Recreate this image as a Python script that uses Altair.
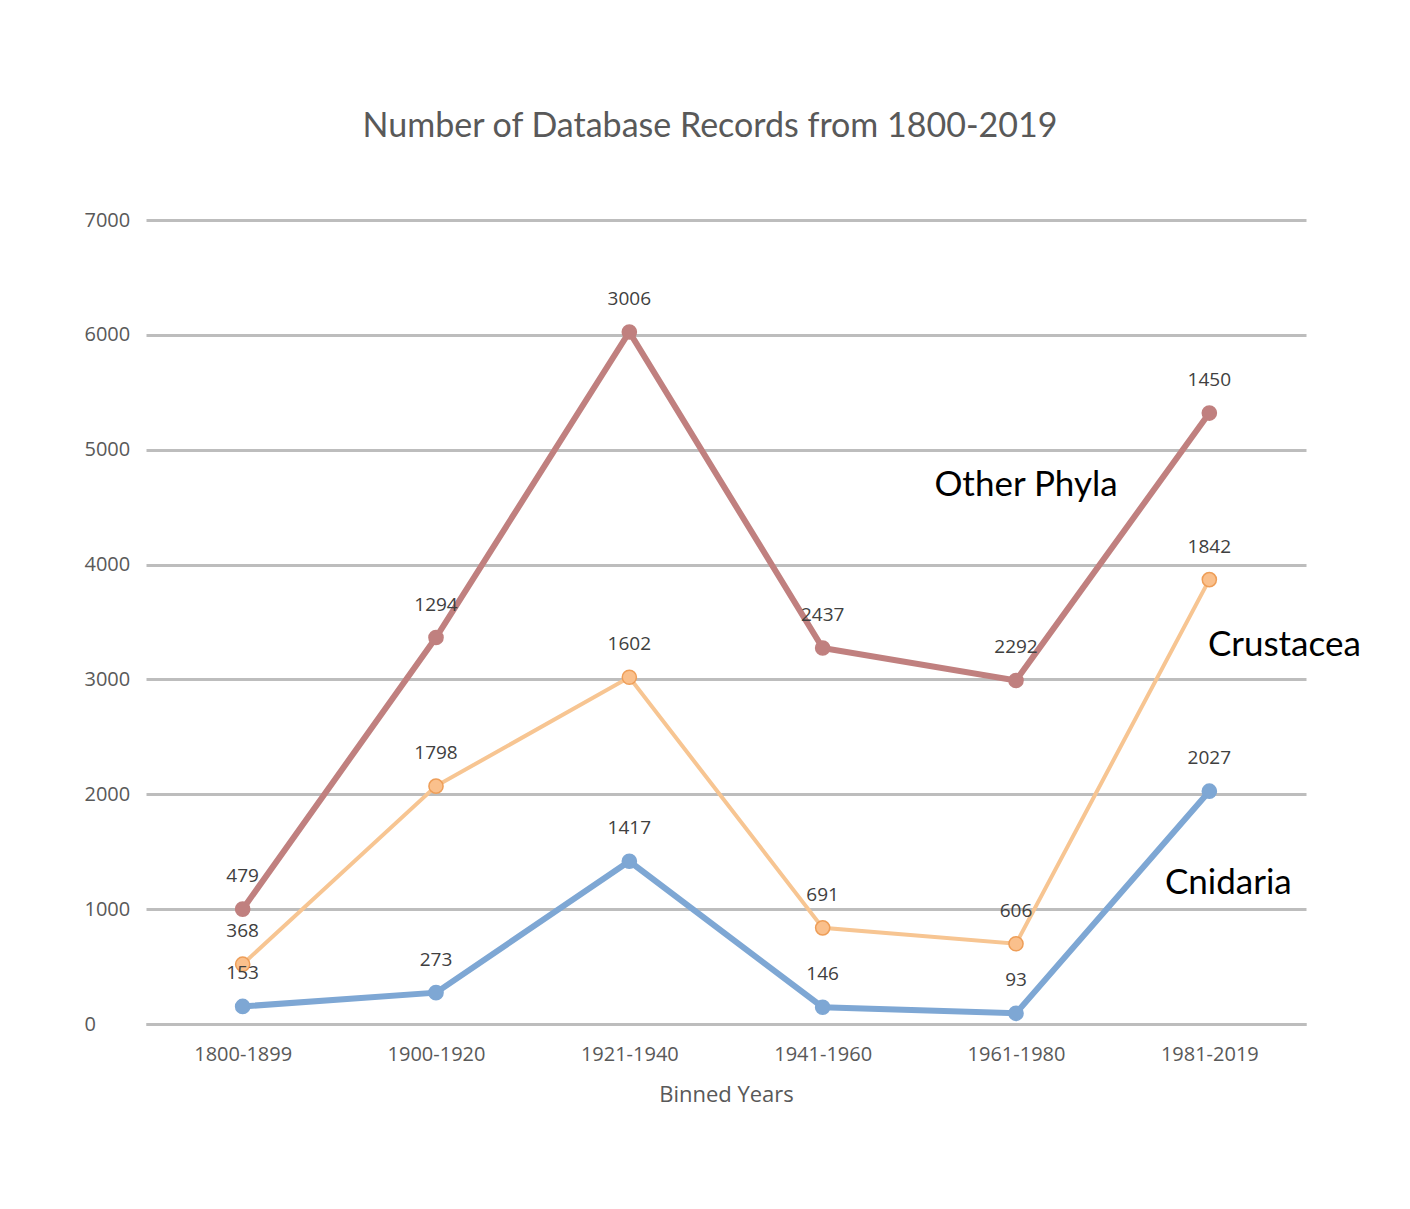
import altair as alt
import pandas as pd

categories = ["1800-1899", "1900-1920", "1921-1940", "1941-1960", "1961-1980", "1981-2019"]
series_names = ["Cnidaria", "Crustacea", "Other Phyla"]
cnidaria = [153, 273, 1417, 146, 93, 2027]
crustacea = [368, 1798, 1602, 691, 606, 1842]
other_phyla = [479, 1294, 3006, 2437, 2292, 1450]
y_ticks = [0, 1000, 2000, 3000, 4000, 5000, 6000, 7000]

line_colors = ["#7EA7D4", "#F7C592", "#C0807F"]
point_fill = ["#7EA7D4", "#FAC08C", "#C0807F"]
point_stroke = ["#7EA7D4", "#EE9E58", "#C0807F"]
line_widths = [6, 4, 6]

ann_text = ["Other Phyla", "Crustacea", "Cnidaria"]
ann_cat = ["1961-1980", "1981-2019", "1981-2019"]
ann_y = [4690, 3300, 1230]
ann_dx = [10, 75, 19]

# stacked line table
rows = []
running = [0] * len(categories)
for name, vals in zip(series_names, [cnidaria, crustacea, other_phyla]):
    for i, (c, v) in enumerate(zip(categories, vals)):
        running[i] += v
        rows.append({"period": c, "series": name, "value": v, "top": running[i]})
df = pd.DataFrame(rows)

FONT_TICK = "Open Sans"
FONT_TITLE = "Lato"

x_enc = alt.X(
    "period:N",
    sort=categories,
    scale=alt.Scale(type="point", padding=0.5, domain=categories),
    axis=alt.Axis(
        title="Binned Years",
        domain=True, domainColor="#BDBDBD", domainWidth=3,
        ticks=False, grid=False,
        labelAngle=0, labelPadding=20,
        labelFont=FONT_TICK, labelFontSize=20, labelColor="#595959",
        titleFont=FONT_TICK, titleFontSize=22, titleColor="#595959",
        titleFontWeight="normal", titlePadding=20,
    ),
)
y_enc = alt.Y(
    "top:Q",
    scale=alt.Scale(domain=[0, 7000], nice=False),
    axis=alt.Axis(
        title=None, values=y_ticks, format="d", domain=False, ticks=False,
        grid=True, gridColor="#BDBDBD", gridWidth=3,
        labelAlign="left", labelBaseline="middle", labelPadding=62,
        labelFont=FONT_TICK, labelFontSize=20, labelColor="#595959",
    ),
)

layers = []
for idx, name in enumerate(series_names):
    sub = alt.Chart(df).transform_filter(alt.datum.series == name)
    layers.append(
        sub.mark_line(color=line_colors[idx], strokeWidth=line_widths[idx]).encode(
            x=x_enc if idx == 0 else alt.X("period:N", sort=categories),
            y=y_enc if idx == 0 else alt.Y("top:Q"),
        )
    )
for idx, name in enumerate(series_names):
    sub = alt.Chart(df).transform_filter(alt.datum.series == name)
    layers.append(
        sub.mark_point(shape="circle", filled=False, size=200, opacity=1, strokeWidth=1.5,
                       fill=point_fill[idx], stroke=point_stroke[idx]).encode(
            x=alt.X("period:N", sort=categories),
            y=alt.Y("top:Q"),
        )
    )

labels = alt.Chart(df).mark_text(dy=-33, font=FONT_TICK, fontSize=19, color="#404040",
                                 baseline="middle").encode(
    x=alt.X("period:N", sort=categories),
    y=alt.Y("top:Q"),
    text=alt.Text("value:Q"),
)
layers.append(labels)

for t, c, yv, dx in zip(ann_text, ann_cat, ann_y, ann_dx):
    adf = pd.DataFrame({"period": [c], "top": [yv], "label": [t]})
    layers.append(
        alt.Chart(adf).mark_text(dx=dx, font=FONT_TITLE, fontSize=35, color="#000000",
                                 align="center", baseline="middle").encode(
            x=alt.X("period:N", sort=categories),
            y=alt.Y("top:Q"),
            text="label:N",
        )
    )

chart = alt.layer(*layers).properties(
    width=1160,
    height=804,
    title=alt.TitleParams(
        "Number of Database Records from 1800-2019",
        font=FONT_TITLE, fontSize=34, fontWeight="normal", color="#595959",
        anchor="middle", dx=-16, offset=66,
    ),
    autosize=alt.AutoSizeParams(type="none"),
    padding={"left": 138, "top": 212, "right": 96, "bottom": 177},
).configure(background="white").configure_view(stroke=None, strokeWidth=0)

chart.save("out.html", embed_options={"renderer": "svg", "actions": False})
